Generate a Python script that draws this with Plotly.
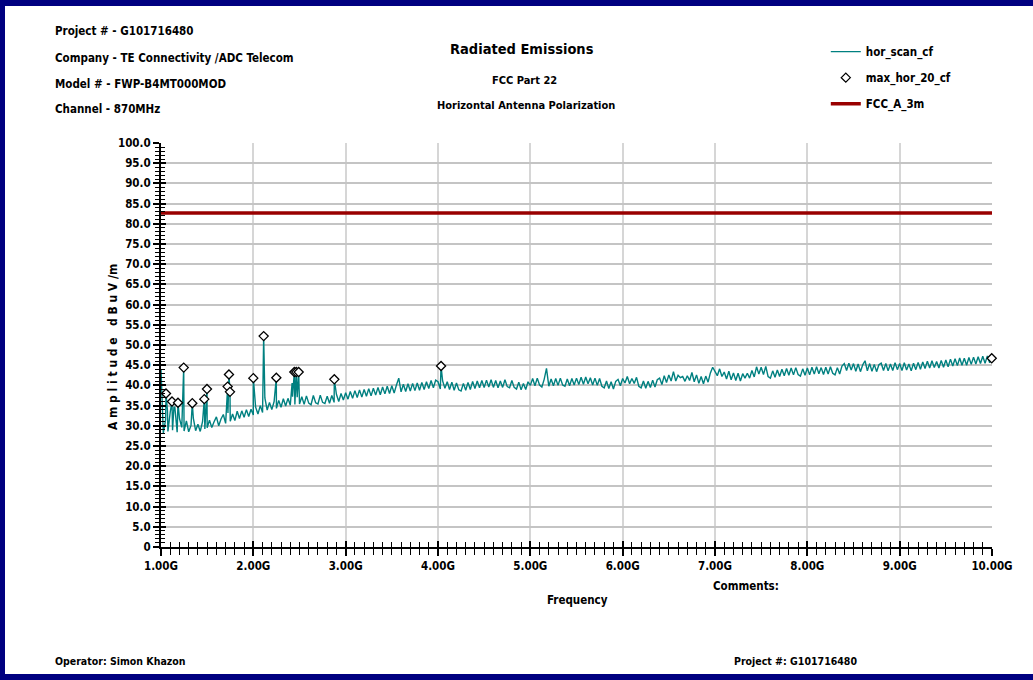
import plotly.graph_objects as go

# ---------------- data ----------------
scan_start_ghz = 1.0
scan_step_ghz = 0.025
# hor_scan_cf amplitude (dBuV/m), one row per 0.5 GHz
scan_rows = [
    [44.0, 28.2, 31.5, 28.6, 33.4, 28.9, 34.6, 28.4, 31.8, 29.6, 28.7, 31.2, 28.5, 30.1, 31.9, 28.8, 30.4, 28.6, 31.0, 29.2],
    [29.5, 31.4, 29.6, 31.0, 32.2, 30.0, 31.7, 32.8, 30.6, 33.2, 31.1, 32.9, 31.3, 33.6, 31.8, 33.7, 32.1, 34.0, 32.3, 34.1],
    [32.7, 34.6, 32.9, 35.0, 33.3, 36.9, 33.9, 35.8, 34.0, 36.0, 34.3, 36.3, 34.6, 36.7, 34.9, 36.8, 35.1, 37.2, 35.3, 37.1],
    [35.4, 37.2, 35.3, 37.4, 35.6, 35.2, 37.5, 35.7, 35.4, 37.6, 35.8, 35.5, 37.3, 35.6, 37.5, 35.8, 37.8, 36.0, 38.0, 36.4],
    [38.2, 36.6, 38.5, 36.8, 38.7, 37.0, 38.9, 37.1, 39.0, 37.3, 39.2, 37.4, 39.3, 37.6, 39.5, 37.7, 39.6, 37.9, 39.8, 38.0],
    [39.9, 38.1, 40.1, 41.8, 38.4, 40.3, 38.5, 40.4, 38.6, 40.5, 38.7, 40.6, 38.8, 40.7, 39.0, 40.9, 39.2, 41.2, 39.4, 41.3],
    [40.9, 39.1, 41.1, 39.3, 40.9, 39.0, 40.8, 38.8, 40.6, 38.9, 38.6, 40.5, 38.8, 40.7, 39.0, 41.0, 39.2, 41.1, 39.4, 41.2],
    [39.5, 41.3, 39.6, 41.4, 39.5, 41.2, 39.4, 41.1, 39.5, 41.4, 39.7, 39.4, 41.2, 39.5, 39.1, 40.8, 38.9, 40.5, 39.0, 40.9],
    [40.0, 41.7, 39.9, 41.8, 40.1, 39.6, 41.5, 44.2, 39.8, 41.6, 39.9, 41.7, 40.0, 41.8, 40.1, 39.8, 41.6, 39.9, 41.7, 40.1],
    [41.8, 40.2, 42.0, 40.3, 42.1, 40.4, 41.9, 40.1, 41.8, 40.0, 41.7, 39.8, 39.4, 41.1, 39.2, 40.9, 39.1, 41.0, 41.5, 39.9],
    [41.7, 40.6, 42.2, 40.4, 41.7, 40.5, 42.0, 39.8, 39.4, 41.1, 39.3, 41.0, 39.5, 41.3, 39.6, 41.4, 41.8, 40.2, 42.4, 40.7],
    [42.6, 41.1, 43.4, 41.1, 42.5, 41.9, 42.2, 41.0, 42.4, 41.2, 43.2, 40.9, 42.6, 40.5, 42.2, 40.4, 42.3, 40.8, 43.1, 44.5],
    [43.6, 42.4, 44.1, 42.2, 43.3, 41.6, 43.5, 41.4, 43.1, 41.2, 43.0, 41.1, 42.9, 41.8, 43.0, 41.8, 43.7, 42.1, 44.6, 42.8],
    [44.5, 42.7, 44.7, 42.2, 41.8, 43.6, 42.0, 43.8, 42.2, 44.0, 42.4, 44.2, 42.5, 44.3, 42.6, 44.4, 42.7, 42.3, 44.1, 42.5],
    [44.3, 42.6, 44.5, 42.8, 44.6, 42.9, 44.4, 42.7, 44.5, 42.8, 44.6, 43.0, 42.6, 44.4, 42.8, 44.8, 45.4, 43.7, 45.5, 43.8],
    [45.4, 43.5, 45.3, 43.4, 45.1, 46.1, 43.6, 45.4, 43.5, 45.2, 43.4, 45.1, 45.5, 43.7, 45.4, 43.6, 45.3, 43.7, 45.6, 43.9],
    [45.4, 43.7, 45.6, 43.8, 45.3, 43.6, 45.5, 43.9, 45.7, 44.0, 45.8, 44.2, 46.0, 44.3, 46.1, 44.4, 45.9, 44.3, 46.2, 44.5],
    [46.3, 44.6, 46.5, 44.8, 46.6, 44.9, 46.8, 45.0, 46.7, 45.0, 46.9, 45.2, 47.0, 45.3, 47.1, 45.4, 47.2, 45.5, 47.3, 45.6],
    [46.6],
]
# extra narrow spikes in the scan (GHz, dBuV/m)
scan_spike_freq = [1.07, 1.14, 2.42]
scan_spike_amp = [33.8, 34.6, 40.6]

# max_hor_20_cf peak markers
max_freq = [1.054, 1.119, 1.184, 1.246, 1.339, 1.469, 1.498, 1.722, 1.736, 1.747,
            2.000, 2.112, 2.249, 2.444, 2.465, 2.491, 2.877, 4.033, 9.997]
max_amp = [38.0, 36.0, 35.7, 44.4, 35.6, 36.6, 39.1, 39.7, 42.7, 38.4,
           41.8, 52.2, 41.9, 43.3, 43.3, 43.3, 41.5, 44.8, 46.7]

# FCC_A_3m limit
limit_freq = [1.0, 10.0]
limit_amp = [82.7, 82.7]

x_tick_vals = [1, 2, 3, 4, 5, 6, 7, 8, 9, 10]
x_tick_text = ["1.00G", "2.00G", "3.00G", "4.00G", "5.00G", "6.00G", "7.00G", "8.00G", "9.00G", "10.00G"]
y_tick_vals = list(range(0, 101, 5))
y_tick_text = ["0"] + [f"{v:.1f}" for v in y_tick_vals[1:]]

# ---------------- build scan trace ----------------
scan_amp = [v for row in scan_rows for v in row]
scan_freq = [scan_start_ghz + scan_step_ghz * i for i in range(len(scan_amp))]
pts = list(zip(scan_freq, scan_amp)) + list(zip(scan_spike_freq, scan_spike_amp)) + list(zip(max_freq, max_amp))
pts.sort(key=lambda p: p[0])
trace_f = [p[0] for p in pts]
trace_a = [p[1] for p in pts]

FONT = "DejaVu Sans Condensed, Liberation Sans, sans-serif"
TEAL = "#008080"
RED = "#990000"

fig = go.Figure()
fig.add_trace(go.Scatter(x=trace_f, y=trace_a, mode="lines", name="hor_scan_cf", legendgroup="a",
                         line=dict(color=TEAL, width=1.4)))
fig.add_trace(go.Scatter(x=max_freq, y=max_amp, mode="markers", name="max_hor_20_cf", legendgroup="b",
                         cliponaxis=False,
                         marker=dict(symbol="diamond", size=7, color="white",
                                     line=dict(color="black", width=1.3))))
fig.add_trace(go.Scatter(x=limit_freq, y=limit_amp, mode="lines", name="FCC_A_3m", legendgroup="c",
                         line=dict(color=RED, width=3.5)))
# invisible trace on overlay axes (for inner tick marks)
fig.add_trace(go.Scatter(x=[1], y=[0], xaxis="x2", yaxis="y2", mode="markers",
                         marker=dict(opacity=0), showlegend=False, hoverinfo="skip"))

tickfont = dict(family=FONT, size=11.5, color="black", weight="bold")

fig.update_layout(
    width=1033, height=680, autosize=False,
    margin=dict(l=161, r=41, t=143, b=133),
    paper_bgcolor="white", plot_bgcolor="white",
    font=dict(family=FONT, color="black"),
    showlegend=True,
    legend=dict(x=0.80, y=1.262, xanchor="left", yanchor="top",
                font=dict(family=FONT, size=11.5, color="black", weight="bold"),
                bgcolor="rgba(0,0,0,0)", itemwidth=30, traceorder="grouped", tracegroupgap=7),
    xaxis=dict(range=[1, 10], tickmode="array", tickvals=x_tick_vals, ticktext=x_tick_text,
               ticks="outside", ticklen=7, tickwidth=1.5, tickcolor="black",
               showline=True, linecolor="black", linewidth=2,
               showgrid=True, gridcolor="#d6d6d6", gridwidth=2, zeroline=False,
               minor=dict(dtick=0.1, tick0=1, ticks="outside", ticklen=6, tickwidth=1.3,
                          tickcolor="black", showgrid=False),
               tickfont=tickfont),
    yaxis=dict(range=[0, 100], tickmode="array", tickvals=y_tick_vals, ticktext=y_tick_text,
               ticks="outside", ticklen=6, tickwidth=1.5, tickcolor="black",
               showline=True, linecolor="black", linewidth=2,
               showgrid=True, gridcolor="#c4c4c4", gridwidth=2, zeroline=False,
               minor=dict(dtick=1, tick0=0, ticks="outside", ticklen=4, tickwidth=1.3,
                          tickcolor="black", showgrid=False),
               tickfont=tickfont),
    xaxis2=dict(range=[1, 10], overlaying="x", anchor="y", side="bottom",
                tickmode="array", tickvals=x_tick_vals, showticklabels=False,
                ticks="inside", ticklen=6, tickwidth=1.5, tickcolor="black",
                showgrid=False, zeroline=False, showline=False,
                minor=dict(dtick=0.1, tick0=1, ticks="inside", ticklen=5, tickwidth=1.3,
                           tickcolor="black", showgrid=False)),
    yaxis2=dict(range=[0, 100], overlaying="y", anchor="x", side="left",
                tickmode="array", tickvals=y_tick_vals, showticklabels=False,
                ticks="inside", ticklen=5, tickwidth=1.5, tickcolor="black",
                showgrid=False, zeroline=False, showline=False,
                minor=dict(dtick=1, tick0=0, ticks="inside", ticklen=4, tickwidth=1.3,
                           tickcolor="black", showgrid=False)),
)

W, H = 1033, 680
L, R, T, B = 161, 41, 143, 133
pw, ph = W - L - R, H - T - B

def px(xp):
    return (xp - L) / pw

def py(yp):
    return (H - B - yp) / ph

def txt(x, y, s, size=11.5, xanchor="left", angle=0):
    fig.add_annotation(x=px(x), y=py(y), xref="paper", yref="paper", text=s, showarrow=False,
                       xanchor=xanchor, yanchor="middle", textangle=angle, borderpad=0,
                       font=dict(family=FONT, size=size, color="black", weight="bold"))

txt(54, 31, "Project # - G101716480")
txt(54, 58, "Company - TE Connectivity /ADC Telecom")
txt(54, 84, "Model # - FWP-B4MT000MOD")
txt(54, 109, "Channel - 870MHz")
txt(522, 49, "Radiated Emissions", size=14.5, xanchor="center")
txt(524, 80, "FCC Part 22", size=11, xanchor="center")
txt(526, 106, "Horizontal Antenna Polarization", size=11, xanchor="center")
txt(577, 600, "Frequency", size=11.5, xanchor="center")
txt(113, 347, "A m p l i t u d e   d B u V /m", size=12, xanchor="center", angle=-90)
txt(746, 586, "Comments:", size=11.5, xanchor="center")
txt(54, 661, "Operator: Simon Khazon", size=10.5)
txt(733, 661, "Project #: G101716480", size=10.5)

# navy frame
for x0, y0, x1, y1 in [(0, 0, W, 6), (0, 0, 5, H), (0, H - 6, W, H)]:
    fig.add_shape(type="rect", xref="paper", yref="paper",
                  x0=px(x0), x1=px(x1), y0=py(y0), y1=py(y1),
                  fillcolor="#000080", line=dict(width=0), layer="above")

fig.write_html("out.html", config={"displayModeBar": False},
               post_script="document.body.style.margin='0';")
